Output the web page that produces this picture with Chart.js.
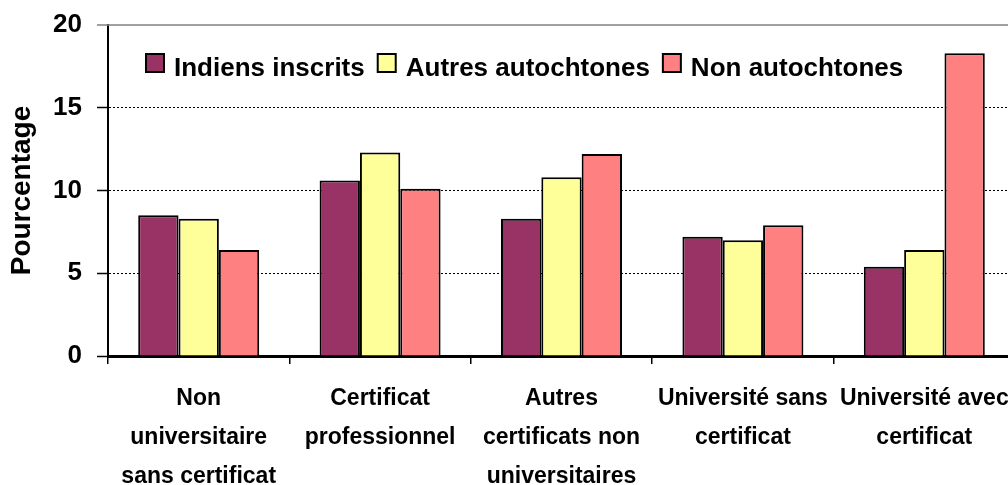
<!DOCTYPE html>
<html>
<head>
<meta charset="utf-8">
<script src="https://cdn.jsdelivr.net/npm/chart.js@4.4.1/dist/chart.umd.min.js"></script>
<style>
  html, body { margin: 0; padding: 0; background: #fff; overflow: hidden; }
  #wrap { width: 1016px; height: 485px; }
</style>
</head>
<body>
<div id="wrap"><canvas id="chart"></canvas></div>
<script>
// Data
const categories = [
    ['Non', 'universitaire', 'sans certificat'],
    ['Certificat', 'professionnel'],
    ['Autres', 'certificats non', 'universitaires'],
    ['Université sans', 'certificat'],
    ['Université avec', 'certificat']
];
const seriesNames = ['Indiens inscrits', 'Autres autochtones', 'Non autochtones'];
const indiensInscrits = [8.5, 10.6, 8.3, 7.2, 5.4];
const autresAutochtones = [8.3, 12.3, 10.8, 7.0, 6.4];
const nonAutochtones = [6.4, 10.1, 12.2, 7.9, 18.3];
const yTicks = [0, 5, 10, 15, 20];

const colors = ['#993366', '#FFFF99', '#FF8080'];

// Narrow font is used for labels when it exists, plain Liberation Sans otherwise
function hasFont(name) {
    const c = document.createElement('canvas').getContext('2d');
    c.font = '40px monospace';
    const base = c.measureText('Indiens inscrits').width;
    c.font = `40px "${name}", monospace`;
    return c.measureText('Indiens inscrits').width !== base;
}
const narrow = hasFont('Liberation Sans Narrow');
const labelFont = narrow
    ? { family: '"Liberation Sans Narrow"', size: 28, weight: 'bold', lineHeight: 1.39 }
    : { family: '"Liberation Sans", Arial', size: 23, weight: 'bold', lineHeight: 1.7 };
const legendFont = narrow ? 'bold 31px "Liberation Sans Narrow"' : 'bold 26px "Liberation Sans", Arial';

// Legend drawn inside the plot area + solid grey top line
const insideLegend = {
    id: 'insideLegend',
    afterDraw(chart) {
        const ctx = chart.ctx;
        const area = chart.chartArea;
        const yTop = chart.scales.y.getPixelForValue(20);

        ctx.save();
        ctx.strokeStyle = '#808080';
        ctx.lineWidth = 1.5;
        ctx.beginPath();
        ctx.moveTo(area.left - 11, yTop);
        ctx.lineTo(area.right, yTop);
        ctx.stroke();

        ctx.font = legendFont;
        ctx.textBaseline = 'alphabetic';
        let x = 146;
        chart.data.datasets.forEach(ds => {
            ctx.fillStyle = ds.backgroundColor;
            ctx.fillRect(x, 54, 18, 18);
            ctx.lineWidth = 2;
            ctx.strokeStyle = '#000';
            ctx.strokeRect(x, 54, 18, 18);
            ctx.fillStyle = '#000';
            ctx.fillText(ds.label, x + 28, 76);
            x += 28 + ctx.measureText(ds.label).width + 13;
        });
        ctx.restore();
    }
};

const ctx = document.getElementById('chart').getContext('2d');
new Chart(ctx, {
    type: 'bar',
    data: {
        labels: categories,
        datasets: [indiensInscrits, autresAutochtones, nonAutochtones].map((vals, i) => ({
            label: seriesNames[i],
            data: vals,
            backgroundColor: colors[i],
            borderColor: '#000',
            borderWidth: 2,
            categoryPercentage: 0.667,
            barPercentage: 1.0
        }))
    },
    options: {
        responsive: true,
        maintainAspectRatio: false,
        animation: false,
        devicePixelRatio: 1,
        layout: { padding: { top: 25, right: 1, left: 0, bottom: 0 } },
        plugins: {
            legend: { display: false },
            tooltip: { enabled: false }
        },
        scales: {
            x: {
                ticks: {
                    color: '#000',
                    font: labelFont,
                    padding: 15,
                    autoSkip: false,
                    maxRotation: 0
                },
                grid: {
                    drawOnChartArea: false,
                    offset: true,
                    tickLength: 8,
                    color: '#000',
                    lineWidth: 1.5
                },
                border: { color: '#000', width: 3 },
                afterFit: s => {
                    s.height = 485 - 356;
                    s.paddingLeft = 0;
                    s.paddingRight = 0;
                }
            },
            y: {
                min: 0,
                max: 20,
                afterBuildTicks: s => { s.ticks = yTicks.map(v => ({ value: v })); },
                ticks: {
                    color: '#000',
                    font: { family: '"Liberation Sans", Arial', size: 26, weight: 'bold' },
                    padding: 15
                },
                grid: {
                    color: c => (c.tick.value === 0 || c.tick.value === 20) ? 'rgba(0,0,0,0)' : '#000',
                    lineWidth: 1,
                    tickLength: 11,
                    tickColor: c => c.tick.value === 20 ? 'rgba(0,0,0,0)' : '#000',
                    tickWidth: 1.5
                },
                border: { color: '#000', width: 2, dash: [2, 2] },
                title: {
                    display: true,
                    text: 'Pourcentage',
                    color: '#000',
                    font: { family: '"Liberation Sans", Arial', size: 28, weight: 'bold' },
                    padding: { top: 5, bottom: 0 }
                },
                afterFit: s => {
                    s.width = 108;
                    s.paddingTop = 0;
                    s.paddingBottom = 0;
                }
            }
        }
    },
    plugins: [insideLegend]
});
</script>
</body>
</html>
